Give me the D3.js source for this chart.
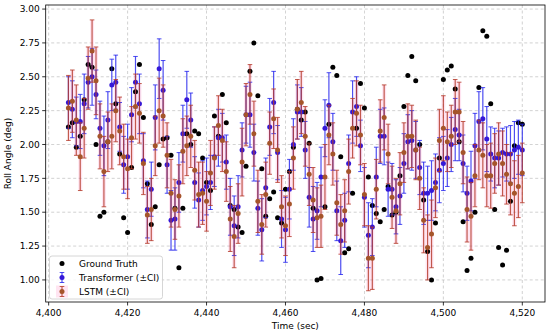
<!DOCTYPE html>
<html><head><meta charset="utf-8">
<script src="https://cdn.jsdelivr.net/npm/d3@7"></script>
<style>body{margin:0;background:#fff}svg{display:block}text{font-family:"DejaVu Sans",sans-serif}</style>
</head><body><svg id="c" width="550" height="335"></svg>
<script>
const tStart = 4405;
const groundTruth = [2.13,2.16,1.98,2.06,2.33,2.59,2.57,2.00,1.47,1.50,2.02,2.56,2.30,1.93,1.46,1.35,1.83,2.39,2.59,2.20,
1.71,1.41,1.54,1.85,2.04,2.05,1.92,1.53,1.09,1.53,2.08,2.00,2.10,2.08,1.90,1.72,1.66,2.21,2.06,2.37,
2.16,1.55,1.52,1.39,1.35,1.84,2.54,2.75,2.36,1.82,1.47,1.60,1.65,1.46,1.42,1.67,1.80,1.98,2.26,2.18,
2.24,2.01,1.53,1.00,1.01,1.54,2.15,2.57,2.51,1.91,1.20,1.23,1.64,2.12,2.45,2.27,1.76,1.55,1.49,1.43,
1.52,1.69,1.48,1.50,1.77,2.28,2.51,2.65,2.47,2.00,1.59,1.21,1.00,1.42,1.90,2.48,2.55,2.58,2.41,2.02,
1.43,1.07,1.16,1.50,2.42,2.84,2.80,2.30,1.52,1.24,1.11,1.22,1.58,1.99,2.16,2.15];
const transformer = [2.31,2.26,2.17,2.17,2.30,2.46,2.50,2.37,2.12,1.99,2.18,2.44,2.46,2.13,1.85,1.91,2.22,2.46,2.30,1.88,
1.52,1.67,2.20,2.56,2.40,1.85,1.44,1.45,1.72,2.08,2.33,2.18,1.72,1.59,1.66,1.69,1.72,1.91,2.05,2.05,
1.87,1.54,1.40,1.54,1.96,2.22,2.22,1.94,1.53,1.37,1.68,2.13,2.31,1.94,1.45,1.37,1.67,2.00,2.24,2.24,
1.96,1.61,1.45,1.51,1.76,2.12,2.29,2.02,1.51,1.29,1.44,1.86,2.24,2.28,1.99,1.61,1.33,1.39,1.76,2.06,
2.06,1.67,1.67,1.54,1.62,1.86,2.02,2.03,1.96,1.83,1.64,1.64,1.66,1.72,1.81,1.86,1.90,2.00,2.11,2.07,
1.86,1.64,1.73,1.99,2.17,2.19,2.04,1.93,1.90,1.90,1.94,1.93,1.93,1.96,1.98,1.96];
const lstm = [2.27,2.32,2.18,1.91,2.12,2.49,2.69,2.47,2.06,1.80,2.02,2.06,2.25,2.10,1.91,1.82,2.05,2.28,2.23,1.86,
1.48,1.52,1.99,2.25,2.21,1.92,1.64,1.52,1.62,1.95,1.99,2.06,1.81,1.63,1.64,1.58,1.79,1.90,2.14,2.03,
1.80,1.45,1.32,1.49,1.87,2.22,2.37,2.08,1.58,1.41,1.63,2.01,2.19,1.96,1.54,1.40,1.56,1.90,2.26,2.31,
2.06,1.78,1.59,1.46,1.47,1.76,2.07,1.93,1.57,1.41,1.51,1.80,2.12,2.23,2.07,1.63,1.16,1.16,1.67,2.10,
2.20,1.93,1.61,1.51,1.71,1.94,2.06,2.06,1.96,1.75,1.44,1.24,1.34,1.68,2.03,2.12,2.02,2.06,2.24,2.24,
1.94,1.52,1.47,1.77,1.96,1.92,1.77,1.77,1.86,1.93,1.86,1.78,1.71,1.64,1.69,1.79];
const transformerCI = [0.19,0.21,0.18,0.20,0.22,0.19,0.21,0.18,0.20,0.22,0.21,0.19,0.20,0.18,0.21,0.24,0.20,0.19,0.22,0.20,
0.21,0.20,0.24,0.22,0.22,0.21,0.22,0.23,0.22,0.21,0.21,0.20,0.19,0.20,0.22,0.21,0.20,0.22,0.21,0.18,
0.20,0.21,0.22,0.23,0.20,0.21,0.24,0.21,0.20,0.23,0.22,0.21,0.23,0.20,0.21,0.24,0.22,0.19,0.20,0.18,
0.21,0.22,0.24,0.21,0.22,0.21,0.24,0.21,0.22,0.25,0.20,0.21,0.23,0.22,0.19,0.22,0.24,0.21,0.22,0.20,
0.21,0.20,0.19,0.20,0.21,0.22,0.20,0.22,0.21,0.20,0.23,0.20,0.22,0.21,0.24,0.20,0.21,0.20,0.23,0.19,
0.21,0.20,0.22,0.24,0.22,0.23,0.24,0.20,0.22,0.20,0.18,0.20,0.21,0.21,0.20,0.19];
const lstmCI = [0.24,0.23,0.26,0.25,0.22,0.23,0.23,0.25,0.24,0.26,0.22,0.24,0.23,0.25,0.24,0.22,0.23,0.24,0.22,0.23,
0.21,0.23,0.22,0.24,0.23,0.24,0.25,0.22,0.23,0.24,0.22,0.23,0.22,0.24,0.23,0.22,0.24,0.23,0.22,0.23,
0.22,0.24,0.23,0.22,0.25,0.23,0.22,0.24,0.23,0.22,0.24,0.23,0.22,0.24,0.23,0.22,0.24,0.23,0.22,0.23,
0.22,0.23,0.24,0.22,0.23,0.24,0.22,0.23,0.24,0.22,0.23,0.24,0.22,0.24,0.22,0.23,0.24,0.23,0.22,0.23,
0.24,0.22,0.23,0.24,0.23,0.22,0.24,0.23,0.22,0.23,0.24,0.24,0.25,0.22,0.23,0.24,0.22,0.23,0.24,0.22,
0.23,0.24,0.25,0.23,0.22,0.24,0.23,0.24,0.22,0.23,0.24,0.22,0.23,0.24,0.23,0.22];
const xTicks = [4400,4420,4440,4460,4480,4500,4520];
const yTicks = [1.00,1.25,1.50,1.75,2.00,2.25,2.50,2.75,3.00];
const legendLabels = ["Ground Truth","Transformer (\u00b1CI)","LSTM (\u00b1CI)"];

const rows = groundTruth.map((g,i)=>({t:tStart+i,gt:g,tr:transformer[i],trc:transformerCI[i],ls:lstm[i],lsc:lstmCI[i]}));

const svg = d3.select("#c");
const L=45.7,R=545,T=5,B=302;
const x = d3.scaleLinear().domain([4399.25,4525.75]).range([L,R]);
const y = d3.scaleLinear().domain([0.837,3.03]).range([B,T]);

const COL_T="#2222ee", COL_TM="#3418d8", COL_L="#b53a2a", COL_LM="#a5552a";

// grid
const g0=svg.append("g");
g0.selectAll(".gx").data(xTicks).join("line").attr("x1",d=>x(d)).attr("x2",d=>x(d)).attr("y1",T).attr("y2",B)
  .attr("stroke","#b0b0b0").attr("stroke-width",0.8).attr("stroke-dasharray","3,2.5").attr("opacity",0.7);
g0.selectAll(".gy").data(yTicks).join("line").attr("y1",d=>y(d)).attr("y2",d=>y(d)).attr("x1",L).attr("x2",R)
  .attr("stroke","#b0b0b0").attr("stroke-width",0.8).attr("stroke-dasharray","3,2.5").attr("opacity",0.7);

// pink CI band (LSTM)
const area = d3.area().x(d=>x(d.t)).y0(d=>y(d.ls-d.lsc)).y1(d=>y(d.ls+d.lsc)).curve(d3.curveStep);
svg.append("path").datum(rows).attr("d",area).attr("fill","#ff69b4").attr("opacity",0.18);

// ground truth
svg.append("g").selectAll("circle").data(rows).join("circle")
  .attr("cx",d=>x(d.t)).attr("cy",d=>y(d.gt)).attr("r",2.5).attr("fill","#000");

function errbars(key,ckey,col,mcol,op){
  const g=svg.append("g");
  g.selectAll(".v").data(rows).join("line").attr("x1",d=>x(d.t)).attr("x2",d=>x(d.t))
    .attr("y1",d=>y(d[key]-d[ckey])).attr("y2",d=>y(d[key]+d[ckey])).attr("stroke",col).attr("stroke-width",1.2).attr("opacity",op);
  ["-","+"].forEach(s=>{
    g.selectAll(".c"+(s=="+"?"p":"m")).data(rows).join("line").attr("x1",d=>x(d.t)-2.3).attr("x2",d=>x(d.t)+2.3)
      .attr("y1",d=>y(s=="+"?d[key]+d[ckey]:d[key]-d[ckey])).attr("y2",d=>y(s=="+"?d[key]+d[ckey]:d[key]-d[ckey]))
      .attr("stroke",col).attr("stroke-width",1).attr("opacity",op);
  });
  g.selectAll("circle").data(rows).join("circle").attr("cx",d=>x(d.t)).attr("cy",d=>y(d[key])).attr("r",2.5).attr("fill",mcol);
}
errbars("tr","trc",COL_T,COL_TM,0.8);
errbars("ls","lsc",COL_L,COL_LM,0.82);

// spines
svg.append("rect").attr("x",L).attr("y",T).attr("width",R-L).attr("height",B-T).attr("fill","none").attr("stroke","#000").attr("stroke-width",0.8);

// axes ticks & labels
const ax=svg.append("g");
ax.selectAll(".xt").data(xTicks).join("line").attr("x1",d=>x(d)).attr("x2",d=>x(d)).attr("y1",B).attr("y2",B+3.5).attr("stroke","#000").attr("stroke-width",0.8);
ax.selectAll(".xl").data(xTicks).join("text").attr("x",d=>x(d)).attr("y",B+14).attr("text-anchor","middle").attr("font-size",9).text(d=>d3.format(",")(d));
ax.selectAll(".yt").data(yTicks).join("line").attr("y1",d=>y(d)).attr("y2",d=>y(d)).attr("x1",L-3.5).attr("x2",L).attr("stroke","#000").attr("stroke-width",0.8);
ax.selectAll(".yl").data(yTicks).join("text").attr("x",L-6).attr("y",d=>y(d)+3.2).attr("text-anchor","end").attr("font-size",9).text(d=>d.toFixed(2));
svg.append("text").attr("x",(L+R)/2).attr("y",329).attr("text-anchor","middle").attr("font-size",9).text("Time (sec)");
svg.append("text").attr("transform",`translate(11,${(T+B)/2}) rotate(-90)`).attr("text-anchor","middle").attr("font-size",9).text("Roll Angle (deg)");

// legend
const lg=svg.append("g");
lg.append("rect").attr("x",49.5).attr("y",256).attr("width",113).attr("height",43).attr("rx",2.5)
  .attr("fill","#fff").attr("fill-opacity",0.85).attr("stroke","#cccccc").attr("stroke-width",0.8);
const ly=[263.5,277.5,291.5];
lg.append("circle").attr("cx",62).attr("cy",ly[0]).attr("r",2.5).attr("fill","#000");
lg.append("rect").attr("x",56).attr("y",ly[2]-6).attr("width",12).attr("height",12).attr("fill","#ff69b4").attr("opacity",0.18);
[[1,COL_T,COL_TM,0.8],[2,COL_L,COL_LM,0.82]].forEach(([i,c,m,o])=>{
  lg.append("line").attr("x1",62).attr("x2",62).attr("y1",ly[i]-5).attr("y2",ly[i]+5).attr("stroke",c).attr("stroke-width",1.2).attr("opacity",o);
  [-5,5].forEach(dy=>lg.append("line").attr("x1",59.7).attr("x2",64.3).attr("y1",ly[i]+dy).attr("y2",ly[i]+dy).attr("stroke",c).attr("opacity",o));
  lg.append("circle").attr("cx",62).attr("cy",ly[i]).attr("r",2.5).attr("fill",m);
});
lg.selectAll("text").data(legendLabels).join("text").attr("x",79).attr("y",(d,i)=>ly[i]+3.3).attr("font-size",9).text(d=>d);
</script></body></html>
